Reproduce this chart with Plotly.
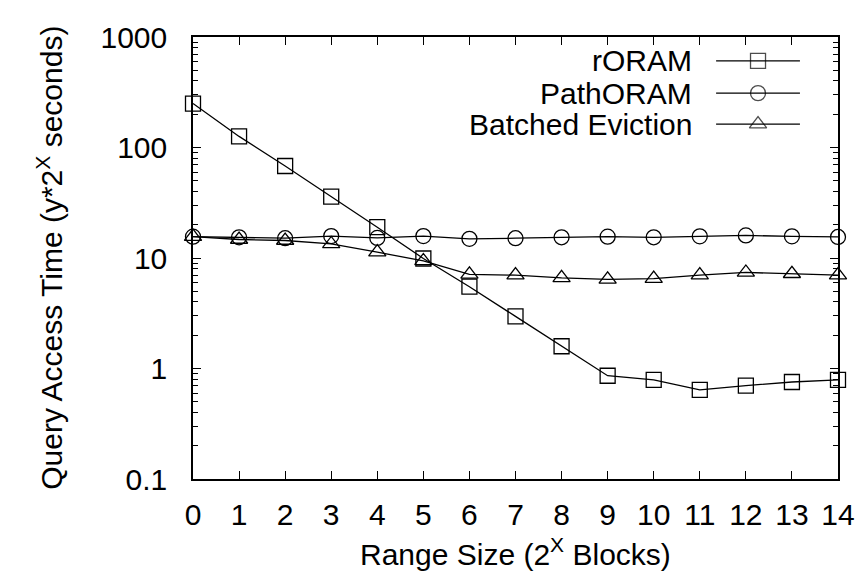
import plotly.graph_objects as go

x_vals = list(range(15))
roram = [250, 126, 68, 36, 19, 9.9, 5.5, 2.96, 1.59, 0.86, 0.79, 0.64, 0.70, 0.755, 0.79]
pathoram = [15.6, 15.4, 15.1, 15.8, 15.2, 15.8, 14.9, 15.1, 15.4, 15.6, 15.4, 15.7, 16.0, 15.7, 15.5]
batched = [15.6, 14.7, 14.4, 13.4, 11.3, 9.4, 7.1, 7.0, 6.6, 6.4, 6.5, 7.0, 7.4, 7.2, 7.0]
names = ["rORAM", "PathORAM", "Batched Eviction"]
symbols = ["square-open", "circle-open", "triangle-up-open"]
y_tickvals = [0.1, 1, 10, 100, 1000]
y_ticktext = ["0.1", "1", "10", "100", "1000"]

FONT = "Liberation Sans, Arial, Helvetica, sans-serif"
FS = 30

fig = go.Figure()
for name, ys, sym in zip(names, [roram, pathoram, batched], symbols):
    fig.add_trace(go.Scatter(
        x=x_vals, y=ys, mode="lines+markers", name=name,
        line=dict(color="black", width=1.3),
        marker=dict(symbol=sym, size=15, color="black", line=dict(width=1.3, color="black")),
        cliponaxis=False, showlegend=False,
    ))

# legend samples (gnuplot style: text on the left, sample on the right)
leg_y = [0.946, 0.873, 0.803]
for name, sym, ly in zip(names, symbols, leg_y):
    fig.add_trace(go.Scatter(
        x=[0.811, 0.876, 0.941], y=[ly, ly, ly], xaxis="x2", yaxis="y2",
        mode="lines+markers", showlegend=False, hoverinfo="skip",
        line=dict(color="black", width=1.3),
        marker=dict(symbol=sym, size=[0, 15, 0], color="black", line=dict(width=1.3, color="black")),
        cliponaxis=False,
    ))
    fig.add_annotation(x=0.777, y=ly, xref="paper", yref="paper", text=name,
                       showarrow=False, xanchor="right", yanchor="middle",
                       font=dict(family=FONT, size=FS, color="black"))

fig.add_annotation(x=-0.222, y=0.5, xref="paper", yref="paper",
                   text="Query Access Time (y*2<sup>X</sup> seconds)", textangle=-90,
                   showarrow=False, xanchor="center", yanchor="middle",
                   font=dict(family=FONT, size=FS, color="black"))
fig.add_annotation(x=0.5, y=-0.212, xref="paper", yref="paper",
                   text="Range Size (2<sup>X</sup> Blocks)",
                   showarrow=False, xanchor="center", yanchor="bottom",
                   font=dict(family=FONT, size=FS, color="black"))

fig.update_layout(
    width=864, height=572,
    margin=dict(l=185, r=34, t=29, b=101),
    paper_bgcolor="white", plot_bgcolor="white",
    font=dict(family=FONT, size=FS, color="black"),
    xaxis=dict(range=[0, 14], tickmode="array", tickvals=x_vals,
               ticks="inside", ticklen=8, tickwidth=1, tickcolor="black",
               showline=True, linecolor="black", linewidth=1.5, mirror="allticks",
               showgrid=False, zeroline=False, ticklabelstandoff=8),
    yaxis=dict(type="log", range=[-1, 3], tickmode="array", tickvals=y_tickvals, ticktext=y_ticktext,
               ticks="inside", ticklen=8, tickwidth=1, tickcolor="black",
               showline=True, linecolor="black", linewidth=1.5, mirror="allticks",
               showgrid=False, zeroline=False, ticklabelstandoff=18,
               minor=dict(ticks="inside", ticklen=5, tickwidth=1, tickcolor="black", dtick="D1", showgrid=False)),
    xaxis2=dict(range=[0, 1], overlaying="x", visible=False, fixedrange=True),
    yaxis2=dict(range=[0, 1], overlaying="y", visible=False, fixedrange=True),
)

fig.write_html("out.html")
